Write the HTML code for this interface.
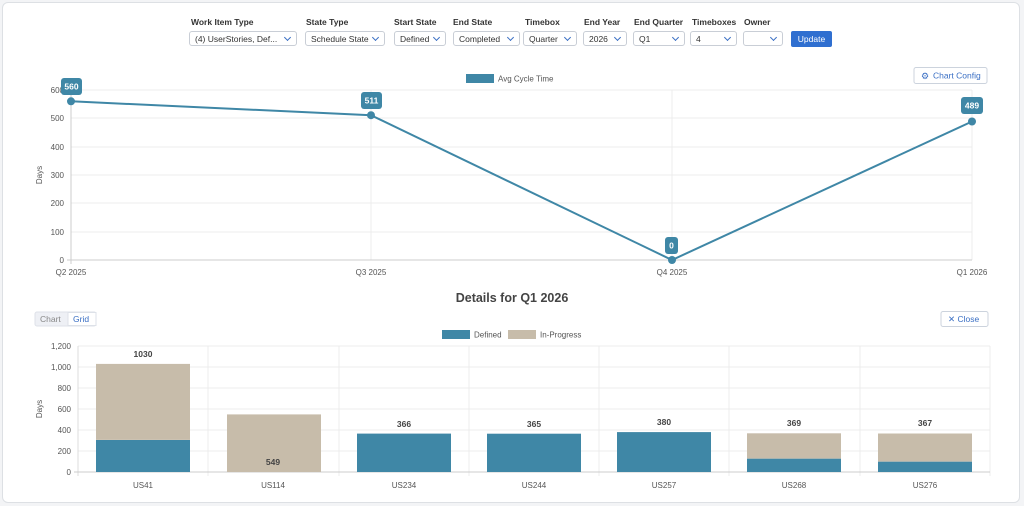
<!DOCTYPE html>
<html><head><meta charset="utf-8"><style>
body{margin:0;width:1024px;height:506px;background:#f3f4f6;font-family:"Liberation Sans",sans-serif;overflow:hidden;position:relative}
.card{position:absolute;left:2px;top:2px;width:1016px;height:499px;background:#fff;border:1px solid #dde0e4;border-radius:6px}
.lbl{position:absolute;top:17px;font-size:8.5px;font-weight:bold;color:#333}
.sel{position:absolute;top:31px;height:15px;border:1px solid #c9ced6;border-radius:3px;font-size:8.5px;color:#333;line-height:15px;padding-left:5px;box-sizing:border-box;background:#fff}
.sel:after{content:"";position:absolute;right:6px;top:3px;width:4px;height:4px;border-right:1.3px solid #3a6fc4;border-bottom:1.3px solid #3a6fc4;transform:rotate(45deg)}
.btn{position:absolute;top:31px;left:791px;width:41px;height:16px;background:#2f6fd0;color:#fff;font-size:8.5px;text-align:center;line-height:16px;border-radius:2px}
svg{position:absolute;left:0;top:0}
</style></head><body>
<div class="card"></div>
<div class="lbl" style="left:191px">Work Item Type</div>
<div class="lbl" style="left:306px">State Type</div>
<div class="lbl" style="left:394px">Start State</div>
<div class="lbl" style="left:453px">End State</div>
<div class="lbl" style="left:525px">Timebox</div>
<div class="lbl" style="left:584px">End Year</div>
<div class="lbl" style="left:634px">End Quarter</div>
<div class="lbl" style="left:692px">Timeboxes</div>
<div class="lbl" style="left:744px">Owner</div>
<div class="sel" style="left:189px;width:108px">(4) UserStories, Def...</div>
<div class="sel" style="left:305px;width:80px">Schedule State</div>
<div class="sel" style="left:394px;width:52px">Defined</div>
<div class="sel" style="left:453px;width:67px">Completed</div>
<div class="sel" style="left:523px;width:54px">Quarter</div>
<div class="sel" style="left:583px;width:44px">2026</div>
<div class="sel" style="left:633px;width:52px">Q1</div>
<div class="sel" style="left:690px;width:47px">4</div>
<div class="sel" style="left:743px;width:40px"></div>
<div class="btn">Update</div>
<svg width="1024" height="506" font-family="Liberation Sans, sans-serif">
<!-- line chart -->
<g stroke="#ececec" stroke-width="1">
<line x1="71" y1="90" x2="972" y2="90"/><line x1="71" y1="118" x2="972" y2="118"/><line x1="71" y1="147" x2="972" y2="147"/><line x1="71" y1="175" x2="972" y2="175"/><line x1="71" y1="203" x2="972" y2="203"/><line x1="71" y1="232" x2="972" y2="232"/>
<line x1="371" y1="90" x2="371" y2="260"/><line x1="672" y1="90" x2="672" y2="260"/><line x1="972" y1="90" x2="972" y2="260"/>
</g>
<line x1="71" y1="90" x2="71" y2="264" stroke="#ccc"/><line x1="67" y1="260" x2="972" y2="260" stroke="#ccc"/>
<g font-size="8" fill="#555" text-anchor="end"><text x="64" y="93">600</text><text x="64" y="121">500</text><text x="64" y="150">400</text><text x="64" y="178">300</text><text x="64" y="206">200</text><text x="64" y="235">100</text><text x="64" y="263">0</text></g>
<text x="42" y="175" font-size="8" fill="#555" transform="rotate(-90 42 175)" text-anchor="middle">Days</text>
<g font-size="8" fill="#555" text-anchor="middle"><text x="71" y="275">Q2 2025</text><text x="371" y="275">Q3 2025</text><text x="672" y="275">Q4 2025</text><text x="972" y="275">Q1 2026</text></g>
<rect x="466" y="74" width="28" height="9" fill="#3f87a6"/><text x="498" y="81.5" font-size="8" fill="#555">Avg Cycle Time</text>
<polyline points="71,101.3 371,115.2 672,260 972,121.5" fill="none" stroke="#3f87a6" stroke-width="2"/>
<g fill="#3f87a6"><circle cx="71" cy="101.3" r="4"/><circle cx="371" cy="115.2" r="4"/><circle cx="672" cy="260" r="4"/><circle cx="972" cy="121.5" r="4"/>
<rect x="61" y="78" width="21" height="17" rx="3"/><rect x="361" y="92" width="21" height="17" rx="3"/><rect x="665" y="237" width="13" height="17" rx="3"/><rect x="961" y="97" width="22" height="17" rx="3"/></g>
<g font-size="8.5" fill="#fff" font-weight="bold" text-anchor="middle"><text x="71.5" y="89.5">560</text><text x="371.5" y="103.5">511</text><text x="671.5" y="248.5">0</text><text x="972" y="108.5">489</text></g>
<rect x="914" y="67.5" width="73" height="16" fill="#fff" stroke="#ccd3dd" rx="2"/>
<text x="921" y="79" font-size="9" fill="#3a6fc4">⚙</text><text x="933" y="78.5" font-size="8.5" fill="#3a6fc4">Chart Config</text>
<!-- details -->
<text x="512" y="302" font-size="12.5" font-weight="bold" fill="#444" text-anchor="middle">Details for Q1 2026</text>
<rect x="35" y="312" width="61" height="14" fill="#eef0f5" stroke="#dde1e8" rx="2"/><rect x="68" y="312.5" width="28" height="13" fill="#fff" stroke="#dde1e8"/>
<text x="40" y="322" font-size="8.5" fill="#888">Chart</text><text x="73" y="322" font-size="8.5" fill="#3a6fc4">Grid</text>
<rect x="941" y="311.5" width="47" height="15" fill="#fff" stroke="#ccd3dd" rx="2"/><text x="948" y="322" font-size="8.5" fill="#3a6fc4">✕ Close</text>
<rect x="442" y="330" width="28" height="9" fill="#3f87a6"/><text x="474" y="337.5" font-size="8" fill="#555">Defined</text>
<rect x="508" y="330" width="28" height="9" fill="#c7bcaa"/><text x="540" y="337.5" font-size="8" fill="#555">In-Progress</text>
<g stroke="#ececec"><line x1="78" y1="346" x2="990" y2="346"/><line x1="78" y1="367" x2="990" y2="367"/><line x1="78" y1="388" x2="990" y2="388"/><line x1="78" y1="409" x2="990" y2="409"/><line x1="78" y1="430" x2="990" y2="430"/><line x1="78" y1="451" x2="990" y2="451"/>
<line x1="208" y1="346" x2="208" y2="476"/><line x1="339" y1="346" x2="339" y2="476"/><line x1="469" y1="346" x2="469" y2="476"/><line x1="599" y1="346" x2="599" y2="476"/><line x1="729" y1="346" x2="729" y2="476"/><line x1="860" y1="346" x2="860" y2="476"/><line x1="990" y1="346" x2="990" y2="476"/></g>
<line x1="78" y1="346" x2="78" y2="476" stroke="#ddd"/><line x1="74" y1="472" x2="990" y2="472" stroke="#ccc"/>
<g font-size="8" fill="#555" text-anchor="end"><text x="71" y="349">1,200</text><text x="71" y="370">1,000</text><text x="71" y="391">800</text><text x="71" y="412">600</text><text x="71" y="433">400</text><text x="71" y="454">200</text><text x="71" y="475">0</text></g>
<text x="42" y="409" font-size="8" fill="#555" transform="rotate(-90 42 409)" text-anchor="middle">Days</text>
<g fill="#c7bcaa"><rect x="96" y="363.9" width="94" height="76"/><rect x="227" y="414.4" width="94" height="57.6"/><rect x="747" y="433.3" width="94" height="25.4"/><rect x="878" y="433.5" width="94" height="28.2"/></g>
<g fill="#3f87a6"><rect x="96" y="440" width="94" height="32"/><rect x="357" y="433.6" width="94" height="38.4"/><rect x="487" y="433.7" width="94" height="38.3"/><rect x="617" y="432.1" width="94" height="39.9"/><rect x="747" y="458.7" width="94" height="13.3"/><rect x="878" y="461.7" width="94" height="10.3"/></g>
<g font-size="8.5" font-weight="bold" fill="#444" text-anchor="middle"><text x="143" y="357">1030</text><text x="273" y="465">549</text><text x="404" y="427">366</text><text x="534" y="427">365</text><text x="664" y="425">380</text><text x="794" y="426">369</text><text x="925" y="426">367</text></g>
<g font-size="8" fill="#555" text-anchor="middle"><text x="143" y="488">US41</text><text x="273" y="488">US114</text><text x="404" y="488">US234</text><text x="534" y="488">US244</text><text x="664" y="488">US257</text><text x="794" y="488">US268</text><text x="925" y="488">US276</text></g>
</svg>
</body></html>
